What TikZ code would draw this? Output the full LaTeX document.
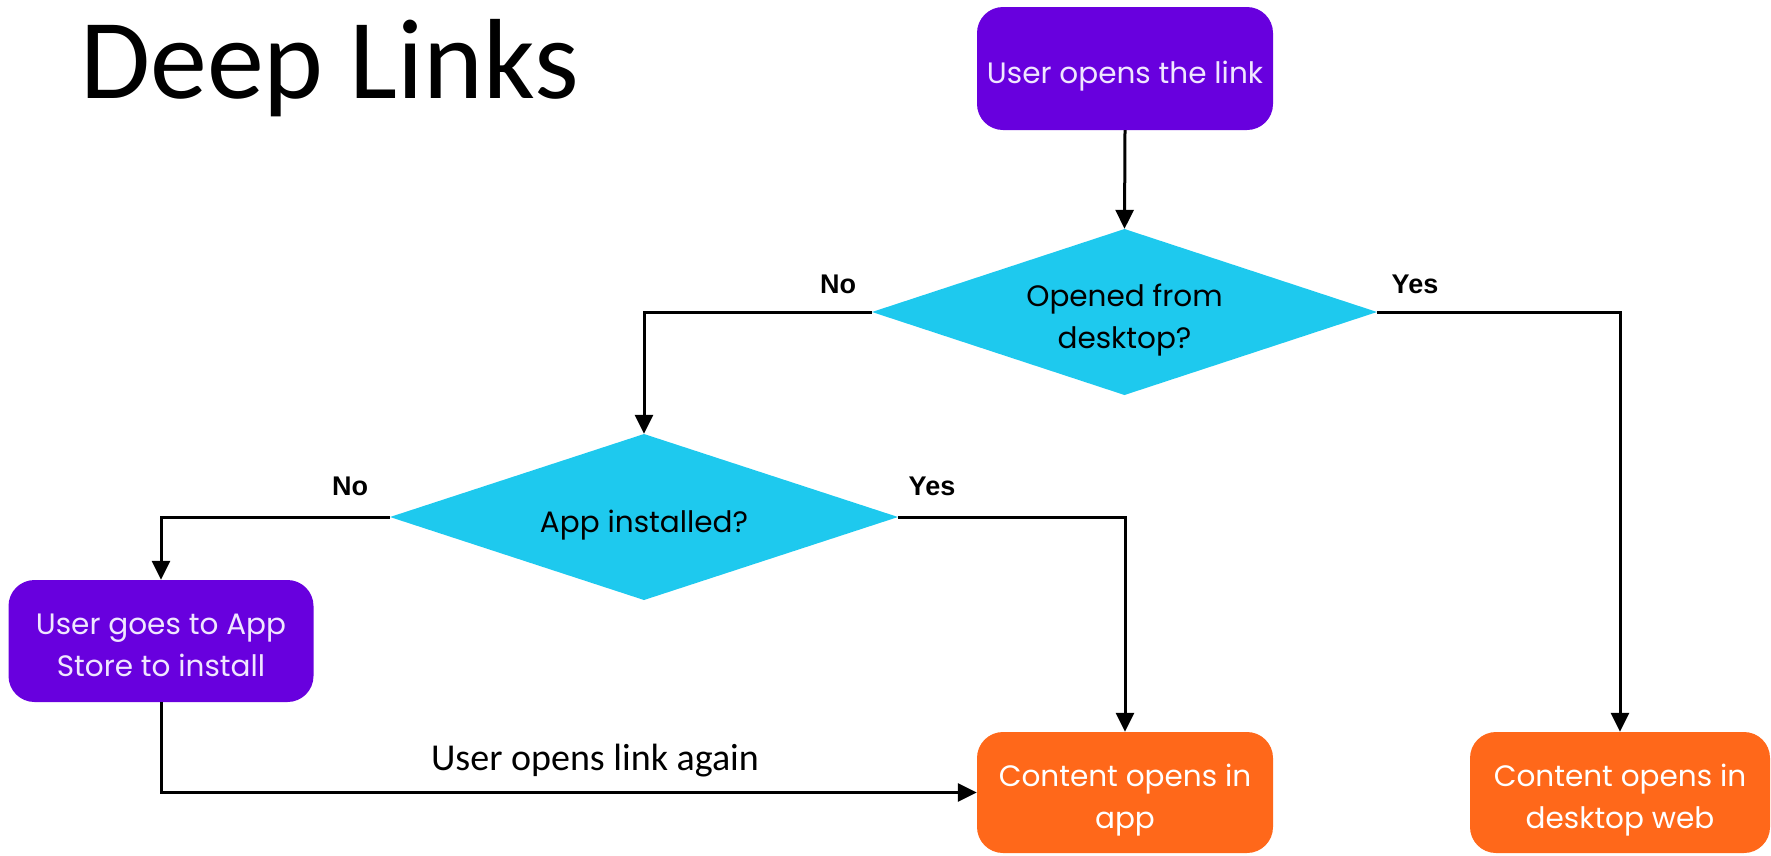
\documentclass[tikz,border=0pt]{standalone}
\usepackage{fontspec}
\setmainfont{Carlito}
\newfontfamily\boxfont{Poppins}
\newfontfamily\lblfont{Liberation Sans}
\usetikzlibrary{arrows.meta}
\definecolor{vio}{RGB}{104,0,222}
\definecolor{cyn}{RGB}{30,201,238}
\definecolor{org}{RGB}{255,104,26}
\definecolor{boxtxt}{RGB}{240,230,255}
\newcommand{\bs}{\rule[-15pt]{0pt}{30pt}}
\tikzset{
  txt/.style={align=center, font=\boxfont\fontsize{29.5}{42}\selectfont, inner sep=0pt, yshift=-11.5pt},
  pbox/.style={rectangle, rounded corners=26pt, fill=vio, inner sep=0pt},
  obox/.style={pbox, fill=org},
  dia/.style={rectangle, inner sep=0pt,
    path picture={\fill[cyn] (path picture bounding box.north) -- (path picture bounding box.east)
      -- (path picture bounding box.south) -- (path picture bounding box.west) -- cycle;}},
  conn/.style={line width=3pt, -{Triangle[length=19pt,width=18pt]}},
  yn/.style={font=\lblfont\bfseries\fontsize{27}{30}\selectfont},
}
\begin{document}
\begin{tikzpicture}[x=1pt,y=-1pt]
\useasboundingbox (0,0) rectangle (1771,855);
\node[anchor=base west, font=\fontsize{114}{120}\selectfont, inner sep=0pt] (title) at (80,98) {Deep Links};

\node[pbox, minimum width=296pt, minimum height=123pt,
  label={[txt, text=boxtxt, name=startt]center:{\bs User opens the link}}] (start) at (1125,68.5) {};
\node[dia, minimum width=505pt, minimum height=166pt,
  label={[txt, name=d1t]center:{\bs Opened from\\\bs desktop?}}] (d1) at (1124.5,312) {};
\node[dia, minimum width=508pt, minimum height=166pt,
  label={[txt, name=d2t]center:{\bs App installed?}}] (d2) at (644,517) {};
\node[pbox, minimum width=305pt, minimum height=122pt,
  label={[txt, text=boxtxt, name=storet]center:{\bs User goes to App\\\bs Store to install}}] (store) at (161,641) {};
\node[obox, minimum width=296pt, minimum height=121pt,
  label={[txt, text=white, name=appt]center:{\bs Content opens in\\\bs app}}] (app) at (1125,792.5) {};
\node[obox, minimum width=300pt, minimum height=121pt,
  label={[txt, text=white, name=webt]center:{\bs Content opens in\\\bs desktop web}}] (web) at (1620,792.5) {};

\draw[conn] (start.south) -- (d1.north);
\draw[conn] (d1.west) -| (d2.north);
\draw[conn] (d1.east) -| (web.north);
\draw[conn] (d2.west) -| (store.north);
\draw[conn] (d2.east) -| (app.north);
\draw[conn] (store.south) |- (app.west);

\node[yn, anchor=base] (no1) at (838,293) {No};
\node[yn, anchor=base] (yes1) at (1415,293) {Yes};
\node[yn, anchor=base] (no2) at (350,495) {No};
\node[yn, anchor=base] (yes2) at (932,495) {Yes};
\node[anchor=base, font=\fontsize{38}{40}\selectfont, inner sep=0pt] (again) at (595,770) {User opens link again};
\end{tikzpicture}
\end{document}
